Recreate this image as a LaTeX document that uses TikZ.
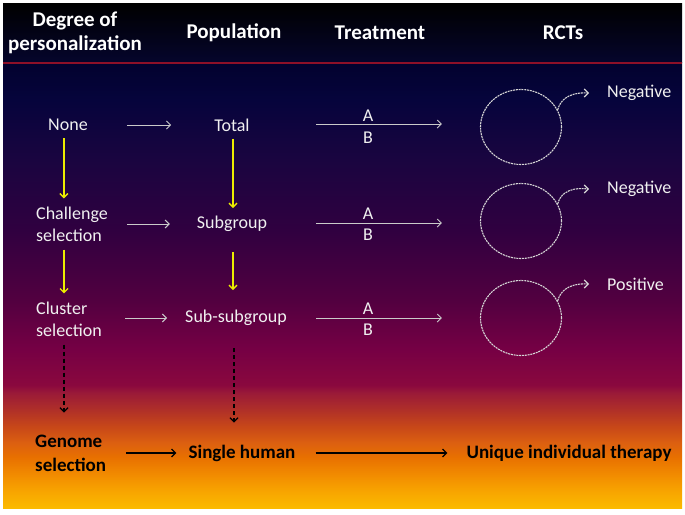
\documentclass[tikz,border=0pt]{standalone}
\usepackage{fontspec}
\setmainfont{Carlito}
\usetikzlibrary{arrows.meta,positioning,shapes.geometric}

% slide colours
\definecolor{hdrbot}{HTML}{05052C}
\definecolor{hdrline}{HTML}{8E1028}
\definecolor{txtwhite}{HTML}{F0F0F0}
\definecolor{arrgray}{HTML}{CACACA}
\definecolor{arryellow}{HTML}{ECEC00}
\definecolor{ringgray}{HTML}{D6D6D6}
\definecolor{bgA}{HTML}{FBBA00}
\definecolor{bgB}{HTML}{F8A600}
\definecolor{bgC}{HTML}{F28C00}
\definecolor{bgD}{HTML}{E87000}
\definecolor{bgE}{HTML}{DC6010}
\definecolor{bgF}{HTML}{C84818}
\definecolor{bgG}{HTML}{B03028}
\definecolor{bgH}{HTML}{9A1A38}
\definecolor{bgI}{HTML}{8A083E}
\definecolor{bgJ}{HTML}{760044}
\definecolor{bgK}{HTML}{520040}
\definecolor{bgL}{HTML}{300040}
\definecolor{bgM}{HTML}{1A0540}
\definecolor{bgN}{HTML}{06043C}
\definecolor{bgO}{HTML}{02022E}

\pgfdeclareverticalshading{slidebg}{100bp}{
  color(0bp)=(bgA); color(25bp)=(bgA); color(26.79bp)=(bgB);
  color(28.70bp)=(bgC); color(30.72bp)=(bgD); color(32.29bp)=(bgE);
  color(34.08bp)=(bgF); color(35.99bp)=(bgG); color(37.89bp)=(bgH);
  color(38.79bp)=(bgI); color(42.71bp)=(bgJ); color(48.32bp)=(bgK);
  color(56.16bp)=(bgL); color(64.01bp)=(bgM); color(70.74bp)=(bgN);
  color(75bp)=(bgO); color(100bp)=(bgO)}

\begin{document}
\begin{tikzpicture}[x=1pt, y=-1pt, >={Straight Barb[length=4pt,width=8pt]}]

\tikzset{
  hdr/.style={
    text=white, align=center, inner sep=0pt,
    font=\fontsize{21}{24}\selectfont\bfseries
  },
  lbl/.style={
    text=txtwhite, align=left, inner sep=0pt,
    font=\fontsize{18}{22}\selectfont
  },
  fin/.style={
    text=black, align=left, inner sep=0pt,
    font=\fontsize{19}{24}\selectfont\bfseries
  },
  arm/.style={
    text=txtwhite, inner sep=0pt,
    font=\fontsize{18}{20}\selectfont
  },
  rct/.style={
    ellipse, draw=ringgray, line width=1.1pt,
    dash pattern=on 2pt off 0.8pt,
    minimum width=81pt, minimum height=75pt, inner sep=0pt
  },
  warrow/.style={->, draw=arrgray, line width=1pt},
  yarrow/.style={->, draw=arryellow, line width=1.4pt},
  darrow/.style={->, draw=black, line width=1.2pt, dash pattern=on 4pt off 3pt},
  barrow/.style={->, draw=black, line width=1.2pt},
  carrow/.style={->, draw=ringgray, line width=1.1pt, dash pattern=on 2pt off 0.8pt}
}

% ==========================
% Background
% ==========================
\useasboundingbox (0,0) rectangle (685,514);
\fill[white] (0,0) rectangle (685,514);
\fill[top color=black, bottom color=hdrbot] (3,3) rectangle (682,62);
\fill[shading=slidebg] (3,62) rectangle (682,508);
\draw[hdrline, line width=2pt] (3,63) -- (682,63);

% ==========================
% Column titles
% ==========================
\node[hdr] (hdeg) at (75,33) {Degree of\\personalization};
\node[hdr] (hpop) at (234,33) {Population};
\node[hdr] (htrt) at (380,33) {Treatment};
\node[hdr] (hrct) at (563,33) {RCTs};

% ==========================
% Rows
% ==========================
\node[lbl, anchor=west] (none) at (48,125) {None};
\node[lbl, anchor=west] (chal) at (36,224) {Challenge\\selection};
\node[lbl, anchor=west] (clus) at (36,319) {Cluster\\selection};
\node[fin, anchor=west] (geno) at (35,453) {Genome\\selection};

\node[lbl] (tot) at (232,125) {Total};
\node[lbl] (sub) at (232,224) {Subgroup};
\node[lbl] (subsub) at (236,318) {Sub-subgroup};
\node[fin] (single) at (242,453) {Single human};

\coordinate (t1) at (316,124);
\coordinate (t2) at (316,223);
\coordinate (t3) at (316,318);

\node[arm] (a1) at (368,116) {A};
\node[arm] (b1) at (368,138) {B};
\node[arm] (a2) at (368,214) {A};
\node[arm] (b2) at (368,235) {B};
\node[arm] (a3) at (368,309) {A};
\node[arm] (b3) at (368,330) {B};

\node[rct] (c1) at (521,127) {};
\node[rct] (c2) at (521,221) {};
\node[rct] (c3) at (521,318) {};

\node[lbl, anchor=west] (res1) at (607,93) {Negative};
\node[lbl, anchor=west] (res2) at (607,189) {Negative};
\node[lbl, anchor=west] (res3) at (607,284) {Positive};

\node[fin] (uniq) at (569,453) {Unique individual therapy};

% personalization -> population
\draw[warrow, shorten <=39pt, shorten >=43pt] (none) -- (tot);
\draw[warrow, shorten <=19pt, shorten >=27pt] (chal.east |- sub) -- (sub);
\draw[warrow, shorten <=23pt, shorten >=18pt] (clus.east |- subsub) -- (subsub);
\draw[barrow, shorten <=20pt, shorten >=12pt] (geno.east |- single) -- (single);

% population -> RCTs
\draw[warrow, shorten >=38pt] (t1) -- (t1 -| c1.west);
\draw[warrow, shorten >=38pt] (t2) -- (t2 -| c2.west);
\draw[warrow, shorten >=38pt] (t3) -- (t3 -| c3.west);
\draw[barrow, shorten <=20pt, shorten >=19pt] (single) -- (uniq);

% going down
\draw[yarrow, shorten <=7pt, shorten >=8pt] ([xshift=-4pt]none.south) -- ([xshift=-4pt]none.south |- chal.north);
\draw[yarrow, shorten <=8pt, shorten >=8pt] ([xshift=28pt]chal.south west) -- ([xshift=28pt]chal.south west |- clus.north);
\draw[yarrow, shorten <=7pt, shorten >=8pt] ([xshift=1pt]tot.south) -- ([xshift=1pt]tot.south |- sub.north);
\draw[yarrow, shorten <=20pt, shorten >=20pt] ([xshift=1pt]sub.south) -- ([xshift=1pt]sub.south |- subsub.north);
\draw[darrow, shorten <=8pt, shorten >=22pt] ([xshift=28pt]clus.south west) -- ([xshift=28pt]clus.south west |- geno.north);
\draw[darrow, shorten <=22pt, shorten >=22pt] ([xshift=-2pt]subsub.south) -- ([xshift=-2pt]subsub.south |- single.north);

% trial outcomes
\draw[carrow, shorten >=18pt] (c1.25) to[out=75, in=180] (res1.west);
\draw[carrow, shorten >=18pt] (c2.25) to[out=75, in=180] (res2.west);
\draw[carrow, shorten >=18pt] (c3.25) to[out=75, in=180] (res3.west);

\end{tikzpicture}
\end{document}
